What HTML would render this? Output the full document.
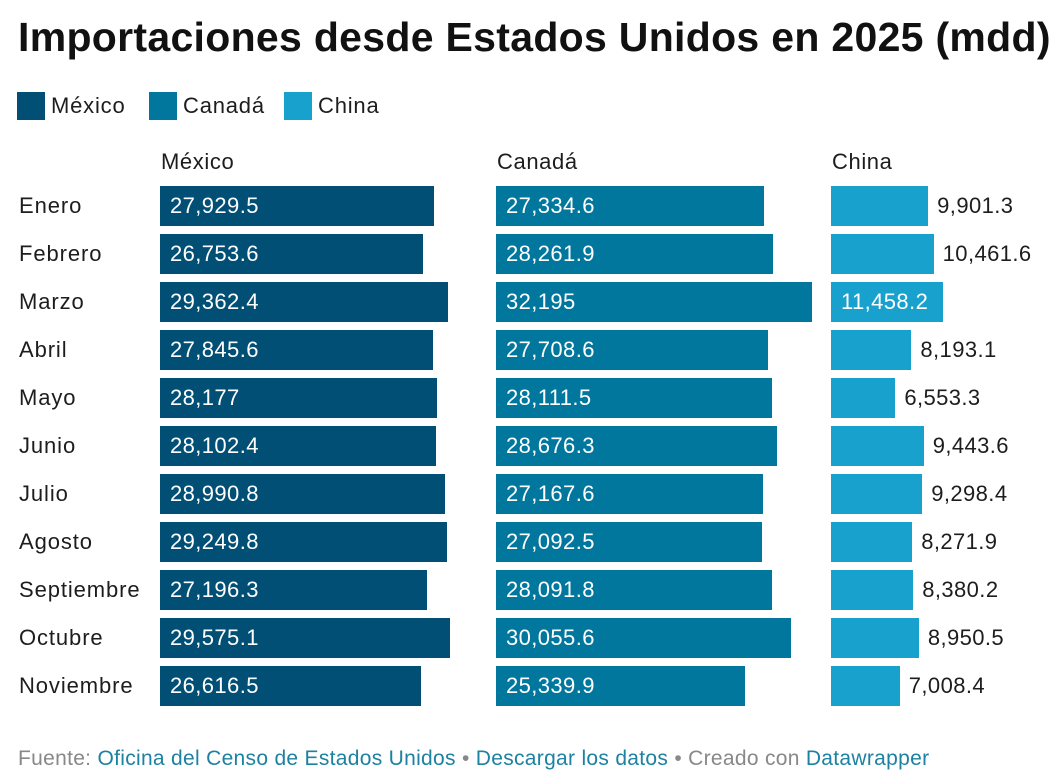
<!DOCTYPE html>
<html><head><meta charset="utf-8"><style>
body{margin:0;width:1062px;height:784px;background:#fff;font-family:"Liberation Sans",sans-serif;color:#1d1d1d;position:relative;overflow:hidden}
.abs{position:absolute;white-space:nowrap;letter-spacing:0.4px}
h1{position:absolute;left:18px;top:14px;margin:0;font-size:41px;font-weight:bold;letter-spacing:0.3px;color:#111}
.sw{position:absolute;width:28px;height:28px}
.lt{font-size:22px;letter-spacing:0.8px}
a{color:#1d81a2;text-decoration:none}
</style></head><body>
<h1>Importaciones desde Estados Unidos en 2025 (mdd)</h1>
<div class="sw" style="left:17px;top:92px;background:#024f76"></div>
<div class="abs lt" style="left:51px;top:93px">México</div>
<div class="sw" style="left:149px;top:92px;background:#02779e"></div>
<div class="abs lt" style="left:183px;top:93px">Canadá</div>
<div class="sw" style="left:284px;top:92px;background:#19a1cd"></div>
<div class="abs lt" style="left:318px;top:93px">China</div>
<div id="chart"></div>
<div class="abs" style="left:18px;top:747px;font-size:21px;color:#888;letter-spacing:0.3px">Fuente: <a>Oficina del Censo de Estados Unidos</a> • <a>Descargar los datos</a> • Creado con <a>Datawrapper</a></div>
<script>
const months=["Enero","Febrero","Marzo","Abril","Mayo","Junio","Julio","Agosto","Septiembre","Octubre","Noviembre"];
const mexico=[27929.5,26753.6,29362.4,27845.6,28177,28102.4,28990.8,29249.8,27196.3,29575.1,26616.5];
const canada=[27334.6,28261.9,32195,27708.6,28111.5,28676.3,27167.6,27092.5,28091.8,30055.6,25339.9];
const china=[9901.3,10461.6,11458.2,8193.1,6553.3,9443.6,9298.4,8271.9,8380.2,8950.5,7008.4];
const series=[{name:"México",vals:mexico,x:160,color:"#024f76",inside:true},{name:"Canadá",vals:canada,x:496,color:"#02779e",inside:true},{name:"China",vals:china,x:831,color:"#19a1cd",inside:false}];
const scale=v=>v*0.009815;
const rowY=i=>186+i*48;
const fmt=v=>v.toLocaleString("en-US",{maximumFractionDigits:1});
const c=document.getElementById("chart");
function mk(style,text){const d=document.createElement("div");d.className="abs";d.style.cssText=style;if(text!==undefined)d.textContent=text;c.appendChild(d);return d;}
months.forEach((m,i)=>{
  const d=mk(`left:19px;top:${rowY(i)+7}px;font-size:22px;letter-spacing:0.9px`,m);
  
  
});
series.forEach(s=>{
  const h=mk(`left:${s.x+1}px;top:149px;font-size:22px;letter-spacing:0.6px`,s.name);
  
  
  s.vals.forEach((v,i)=>{
    const w=scale(v);
    const b=mk(`left:${s.x}px;top:${rowY(i)}px;width:${w}px;height:40px;background:${s.color}`);
    
    
    const txt=fmt(v);
    const fits=s.inside||w>txt.length*12+14;
    const l=mk(`left:${fits?s.x+10:s.x+w+9}px;top:${rowY(i)+7}px;font-size:22px;color:${fits?'#fff':'#1d1d1d'}`,txt);
    
    
  });
});
</script>
</body></html>
